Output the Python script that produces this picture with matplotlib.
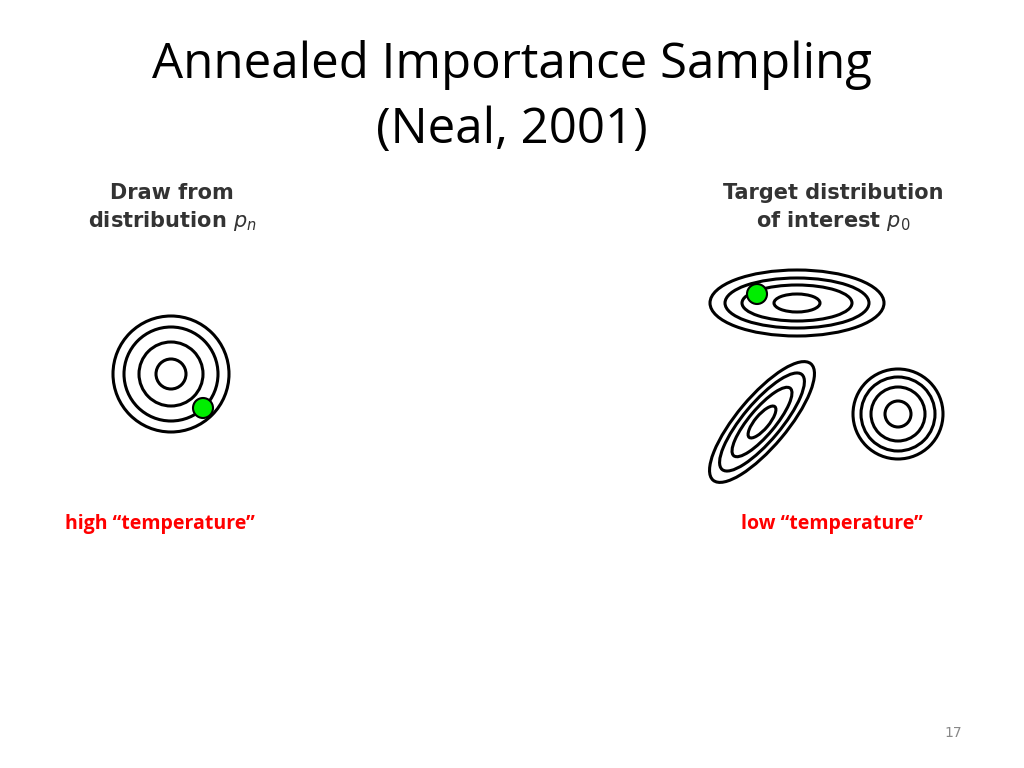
import matplotlib.pyplot as plt
from matplotlib.patches import Ellipse, Circle

# contour sets: centre, half-widths, half-heights, tilt (deg)
left_center = (171, 374)
left_radii = [58, 47, 32, 15]
top_center = (797, 303)
top_w = [87, 72, 55, 23]
top_h = [33, 25, 18, 9]
tilt_center = (762, 422)
tilt_w = [76, 62, 44, 20]
tilt_h = [25, 19, 13, 7]
tilt_angle = 50
right_center = (898, 414)
right_radii = [45, 37, 27, 13]
dots = [(203, 408), (757, 294)]

fig = plt.figure(figsize=(10.24, 7.68), dpi=100)
ax = fig.add_axes([0, 0, 1, 1])
ax.set_xlim(0, 1024)
ax.set_ylim(768, 0)
ax.set_aspect('equal')
ax.axis('off')

lw = 2.2
for r in left_radii:
    ax.add_patch(Circle(left_center, r, fill=False, ec='black', lw=lw))
for w, h in zip(top_w, top_h):
    ax.add_patch(Ellipse(top_center, 2 * w, 2 * h, fill=False, ec='black', lw=lw))
for w, h in zip(tilt_w, tilt_h):
    ax.add_patch(Ellipse(tilt_center, 2 * w, 2 * h, angle=-tilt_angle,
                         fill=False, ec='black', lw=lw))
for r in right_radii:
    ax.add_patch(Circle(right_center, r, fill=False, ec='black', lw=lw))
for d in dots:
    ax.add_patch(Circle(d, 10, fc='#00ee00', ec='black', lw=1.5, zorder=5))

ax.text(512, 65, "Annealed Importance Sampling", ha='center', va='center',
        fontsize=35.5, family='Open Sans')
ax.text(512, 130, "(Neal, 2001)", ha='center', va='center',
        fontsize=35.5, family='Open Sans')

ax.text(172, 208, "Draw from\ndistribution $p_n$", ha='center', va='center',
        fontsize=15, fontweight='bold', color='#333333', linespacing=1.3)
ax.text(833, 208, "Target distribution\nof interest $p_0$", ha='center', va='center',
        fontsize=15, fontweight='bold', color='#333333', linespacing=1.3)

ax.text(160, 524, "high \u201ctemperature\u201d", ha='center', va='center',
        fontsize=14, fontweight='bold', color='red', family='Open Sans')
ax.text(832, 524, "low \u201ctemperature\u201d", ha='center', va='center',
        fontsize=14, fontweight='bold', color='red', family='Open Sans')
ax.text(953, 733, "17", ha='center', va='center', fontsize=10, color='#888888')

fig.savefig("out.png", dpi=100)
